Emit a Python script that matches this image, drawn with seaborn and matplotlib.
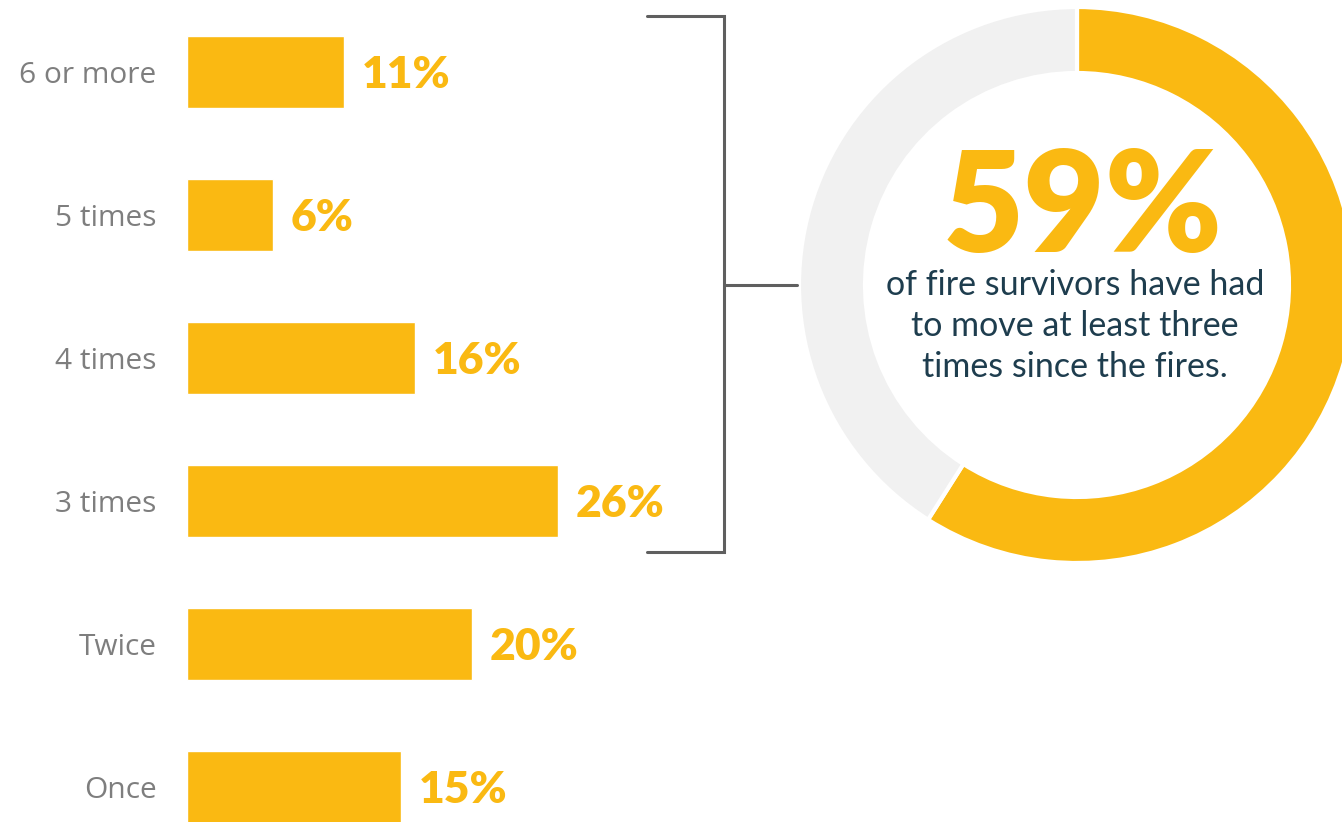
import matplotlib
matplotlib.use("Agg")
import matplotlib.pyplot as plt
from matplotlib.lines import Line2D
import seaborn as sns
import pandas as pd

# Number of moves since the fires
categories = ["6 or more", "5 times", "4 times", "3 times", "Twice", "Once"]
shares = [11, 6, 16, 26, 20, 15]
value_labels = ["11%", "6%", "16%", "26%", "20%", "15%"]

# Share who moved at least three times
donut_values = [59, 41]
headline = "59%"
subtitle = "of fire survivors have had\nto move at least three\ntimes since the fires."

YELLOW = "#FAB912"
RING_GREY = "#F1F1F1"
LABEL_GREY = "#7E7E7E"
TEXT_DARK = "#1E3D4E"
BRACKET = "#5F5F5F"

W, H = 1342, 822
sns.set_theme(style="white")
plt.rcParams["font.family"] = ["Lato", "DejaVu Sans"]

fig = plt.figure(figsize=(W / 100, H / 100), dpi=100)
fig.patch.set_facecolor("white")


def px_axes(x0, y0, x1, y1):
    """Axes placed by pixel edges measured from the top-left corner."""
    return fig.add_axes([x0 / W, 1 - y1 / H, (x1 - x0) / W, (y1 - y0) / H])


# ---- horizontal bars ----
df = pd.DataFrame({"category": categories, "share": shares})
ax = px_axes(187, 0, 187 + 14.25 * 40, H)
sns.barplot(data=df, y="category", x="share", orient="h", color=YELLOW,
            saturation=1, width=0.503, ax=ax)
ax.set_xlim(0, 40)
ax.set_ylim(5.245, -0.503)
ax.set_facecolor("none")
for s in ax.spines.values():
    s.set_visible(False)
ax.set_xticks([])
ax.set_xlabel("")
ax.set_ylabel("")
ax.tick_params(axis="y", length=0, pad=22, labelsize=21.5, labelcolor=LABEL_GREY)
for t in ax.get_yticklabels():
    t.set_fontfamily(["Open Sans", "DejaVu Sans"])
    t.set_fontweight("normal")
for i, (v, lab) in enumerate(zip(shares, value_labels)):
    ax.annotate(lab, (v, i), xytext=(13, 0), textcoords="offset points",
                ha="left", va="center_baseline", color=YELLOW, fontsize=32,
                fontweight="heavy", family=["Lato", "DejaVu Sans"])

# ---- donut ----
cx, cy, half = 1077, 285, 300
dax = px_axes(cx - half, cy - half, cx + half, cy + half)
dax.pie(donut_values, colors=[YELLOW, RING_GREY], startangle=90,
        counterclock=False, radius=278,
        wedgeprops=dict(width=66, edgecolor="white", linewidth=3))
dax.set_xlim(-half, half)
dax.set_ylim(-half, half)
dax.set_aspect("equal")
dax.axis("off")
dax.text(6, 74, headline, ha="center", va="center", color=YELLOW,
         fontsize=101, fontweight="heavy")
dax.text(-2, -41, subtitle, ha="center", va="center", color=TEXT_DARK,
         fontsize=24.5, linespacing=1.35)

# ---- bracket joining 3+ moves to the donut ----
def fig_line(xs, ys):
    fig.add_artist(Line2D([x / W for x in xs], [1 - y / H for y in ys],
                          color=BRACKET, linewidth=2.2,
                          solid_joinstyle="miter", transform=fig.transFigure))

fig_line([647, 724, 724, 647], [16, 16, 552, 552])
fig_line([724, 797], [285, 285])

fig.savefig("out.png", dpi=100, facecolor="white")
